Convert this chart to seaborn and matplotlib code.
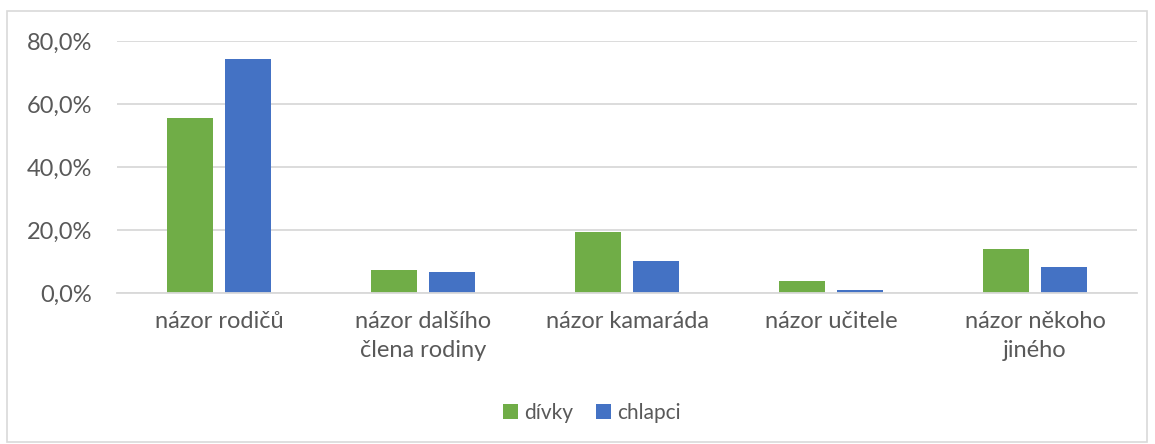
import matplotlib
matplotlib.use("Agg")
import matplotlib.pyplot as plt
import seaborn as sns
import pandas as pd
from matplotlib.ticker import FuncFormatter, MultipleLocator
from matplotlib.patches import Rectangle

categories = ["názor rodičů", "názor dalšího\nčlena rodiny", "názor kamaráda",
              "názor učitele", "názor někoho\njiného"]
divky = [55.5, 7.3, 19.5, 3.7, 14.0]
chlapci = [74.3, 6.7, 10.1, 0.8, 8.2]
series_names = ["dívky", "chlapci"]
colors = ["#70AD47", "#4472C4"]

df = pd.DataFrame({
    "kategorie": categories * 2,
    "hodnota": divky + chlapci,
    "pohlaví": [series_names[0]] * len(categories) + [series_names[1]] * len(categories),
})

sns.set_theme(style="white")
plt.rcParams['font.family'] = ['Lato', 'DejaVu Sans']

fig = plt.figure(figsize=(11.55, 4.44), dpi=100)
ax = fig.add_axes([117/1155, 1 - 293/444, (1137-117)/1155, (293-41)/444])

sns.barplot(data=df, x="kategorie", y="hodnota", hue="pohlaví",
            palette=colors, width=0.573, gap=0.22, ax=ax,
            errorbar=None, saturation=1, edgecolor="none")

ax.set_ylim(0, 80)
ax.set_xlim(-0.5, len(categories) - 0.5)
ax.yaxis.set_major_locator(MultipleLocator(20))
ax.yaxis.set_major_formatter(FuncFormatter(lambda v, p: f"{v:.1f}".replace(".", ",") + "%"))
ax.grid(axis="y", color="#D9D9D9", linewidth=1.3)
ax.set_axisbelow(True)
for s in ["top", "right", "left"]:
    ax.spines[s].set_visible(False)
ax.spines["bottom"].set_color("#D9D9D9")
ax.spines["bottom"].set_linewidth(1.3)
ax.set_xlabel("")
ax.set_ylabel("")
ax.tick_params(axis="y", length=0, pad=18, labelsize=17, labelcolor="#595959")
ax.tick_params(axis="x", length=0, pad=13, labelsize=17, labelcolor="#595959")
for lbl in ax.get_xticklabels():
    lbl.set_linespacing(1.45)

handles, labels = ax.get_legend_handles_labels()
ax.legend_.remove()
fig.legend(handles, labels, loc="center", bbox_to_anchor=(592/1155, 1 - 413/444),
           ncol=2, frameon=False, fontsize=15, handlelength=0.7, handleheight=0.7,
           handletextpad=0.3, columnspacing=1.1, labelcolor="#595959")

fig.patches.append(Rectangle((7/1155, 0.005), (1147-7)/1155, 1 - 11/444 - 0.005,
                             transform=fig.transFigure, fill=False,
                             edgecolor="#D9D9D9", linewidth=1.2))

fig.savefig("out.png", dpi=100)
